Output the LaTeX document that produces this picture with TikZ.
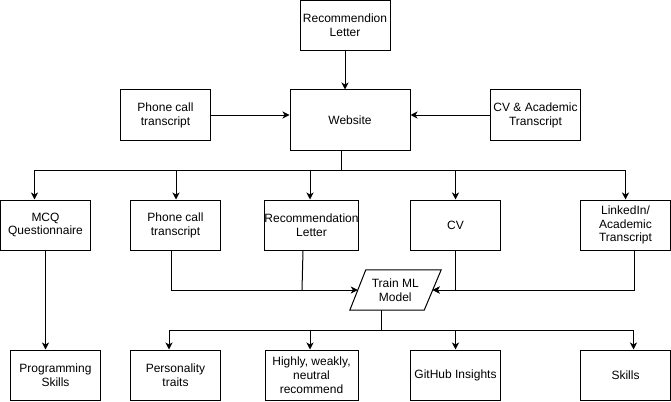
\documentclass[tikz,border=0pt]{standalone}
\usepackage{fontspec}
\setmainfont{Liberation Sans}
\usetikzlibrary{arrows.meta,calc}
\tikzset{
  box/.style={draw, line width=1pt, minimum width=90pt, minimum height=50pt, inner sep=0pt, align=center, font=\fontsize{12}{13.8}\selectfont},
  conn/.style={line width=1pt},
  arr/.style={conn, -{Stealth[length=7pt,width=7pt,inset=2pt]}},
}
\begin{document}
\begin{tikzpicture}[x=1pt,y=-1pt]
\useasboundingbox (0,0) rectangle (671,401);
% top row
\node[box] (rl) at (345,25.5) {Recommendion\\Letter};
\node[box, minimum width=120pt, minimum height=60pt] (web) at (350,120) {Website};
\node[box] (pc1) at (165.5,115) {Phone call\\transcript};
\node[box] (cva) at (535.5,115) {CV \& Academic\\Transcript};
% middle row
\node[box] (mcq) at (45.5,225) {MCQ\\Questionnaire};
\node[box] (pc2) at (175.5,225) {Phone call\\transcript};
\node[box, minimum width=93pt] (rec2) at (311.5,225) {Recommendation\\Letter};
\node[box] (cv) at (455.5,225) {CV};
\node[box] (li) at (625.5,225) {LinkedIn/\\Academic\\Transcript};
% train node
\node[inner sep=0pt, minimum width=74.5pt, minimum height=40pt, align=center, font=\fontsize{12}{13.8}\selectfont] (train) at (395.25,290) {Train ML\\Model};
\draw[conn, line join=miter] ([xshift=8pt]train.north west) -- ([xshift=8.5pt]train.north east) -- ([xshift=-8.5pt]train.south east) -- ([xshift=-8pt]train.south west) -- cycle;
% bottom row
\node[box] (ps) at (55.5,375) {Programming\\Skills};
\node[box] (pt) at (175.5,375) {Personality\\traits};
\node[box, minimum width=93pt] (hw) at (311.5,375) {Highly, weakly,\\neutral\\recommend};
\node[box] (gh) at (455.5,375) {GitHub Insights};
\node[box] (sk) at (625.5,375) {Skills};
% junctions
\coordinate (j1) at (341,170);
\coordinate (j2) at (381,330);
\coordinate (j3) at (302,290);
% connectors top
\draw[arr] (rl.south) -- (rl.south |- web.north);
\draw[arr] (pc1.east) -- (pc1.east -| web.west);
\draw[arr] (cva.west) -- (cva.west -| web.east);
\draw[conn] (web.south -| j1) -- (j1);
\draw[arr] (j1) -| ([xshift=-11pt]mcq.north);
\draw[arr] (j1) -| ([xshift=0.5pt]pc2.north);
\draw[arr] (j1) -| ([xshift=-1.5pt]rec2.north);
\draw[arr] (j1) -| (cv.north);
\draw[arr] (j1) -| (li.north);
% middle connectors
\draw[arr] (mcq.south) -- (mcq.south |- ps.north);
\draw[arr] ([xshift=-4.5pt]pc2.south) |- (train.west);
\draw[conn] ([xshift=-8.5pt]rec2.south) -- (j3);
\draw[arr] (cv.south) |- (train.east);
\draw[arr] ([xshift=8.5pt]li.south) |- (train.east);
% bottom connectors
\draw[conn] (train.south -| j2) -- (j2);
\draw[arr] (j2) -| ([xshift=-6.5pt]pt.north);
\draw[arr] (j2) -| ([xshift=-1.5pt]hw.north);
\draw[arr] (j2) -| (gh.north);
\draw[arr] (j2) -| ([xshift=8pt]sk.north);
\end{tikzpicture}
\end{document}
